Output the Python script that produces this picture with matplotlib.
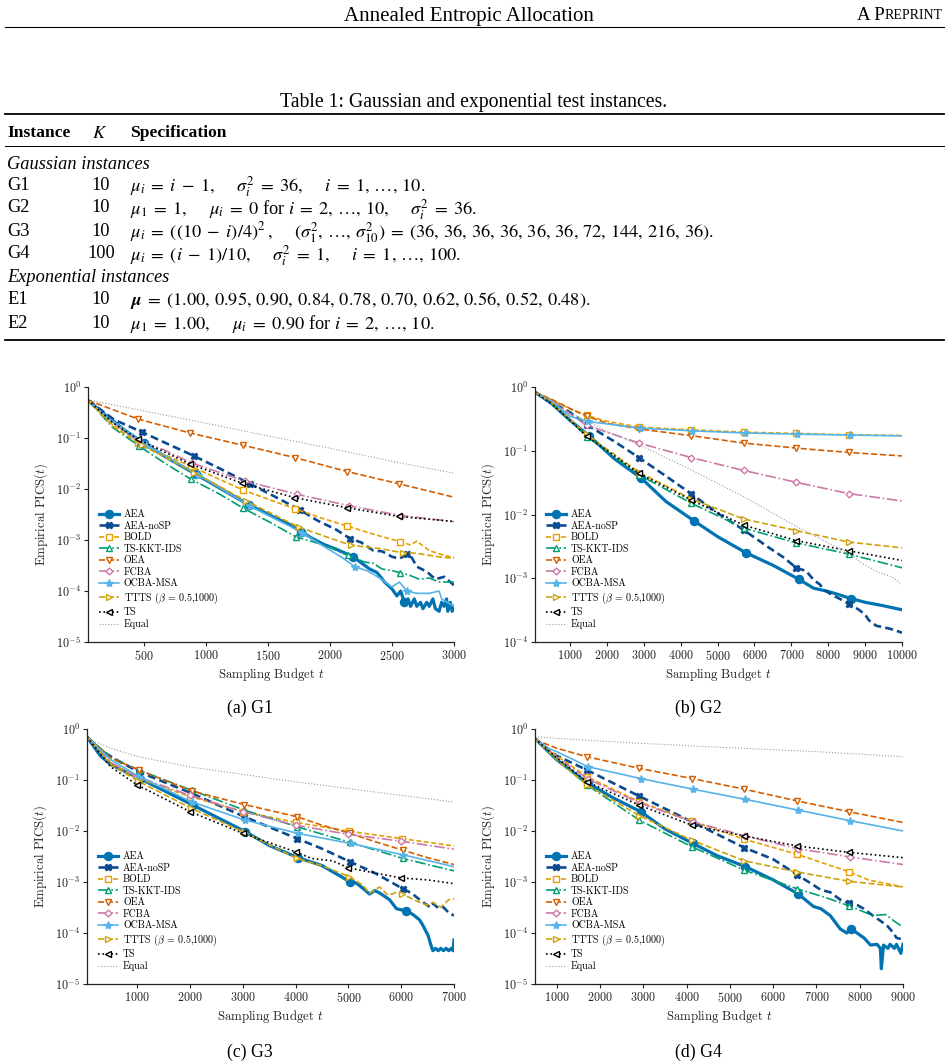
import numpy as np
import matplotlib
matplotlib.use("Agg")
import matplotlib.pyplot as plt
from matplotlib.lines import Line2D
from matplotlib.ticker import MultipleLocator, NullLocator, LogLocator

plt.rcParams['font.family'] = 'cmr10'
plt.rcParams['mathtext.fontset'] = 'cm'
plt.rcParams['axes.formatter.use_mathtext'] = True
plt.rcParams['axes.unicode_minus'] = False

W, H = 949, 1063
SERIF = 'Liberation Serif'

# ---------------- table ----------------
TABLE_CAPTION = 'Table 1: Gaussian and exponential test instances.'
TABLE_HEADER = ['Instance', '$K$', 'Specification']
GAUSS_NAMES = ['G1', 'G2', 'G3', 'G4']
GAUSS_K = ['10', '10', '10', '100']
GAUSS_SPECS = [
    r'$\mu_i = i - 1, \quad \sigma_i^2 = 36, \quad i = 1, \ldots, 10.$',
    r'$\mu_1 = 1, \quad \mu_i = 0$ for $i = 2, \ldots, 10, \quad \sigma_i^2 = 36.$',
    r'$\mu_i = ((10 - i)/4)^2\,, \quad (\sigma_1^2, \ldots, \sigma_{10}^2) = '
    r'(36, 36, 36, 36, 36, 36, 72, 144, 216, 36).$',
    r'$\mu_i = (i - 1)/10, \quad \sigma_i^2 = 1, \quad i = 1, \ldots, 100.$',
]
EXP_NAMES = ['E1', 'E2']
EXP_K = ['10', '10']
EXP_SPECS = [
    r'$\boldsymbol{\mu} = (1.00, 0.95, 0.90, 0.84, 0.78, 0.70, 0.62, 0.56, 0.52, 0.48).$',
    r'$\mu_1 = 1.00, \quad \mu_i = 0.90$ for $i = 2, \ldots, 10.$',
]

# ---------------- curves: (t, PICS) ----------------
METHODS = ['AEA', 'AEA-noSP', 'BOLD', 'TS-KKT-IDS', 'OEA', 'FCBA', 'OCBA-MSA', 'TTTS', 'TS', 'Equal']
LABELS = ['AEA', 'AEA-noSP', 'BOLD', 'TS-KKT-IDS', 'OEA', 'FCBA', 'OCBA-MSA',
          r'TTTS ($\beta$ = 0.5,1000)', 'TS', 'Equal']

# G1
G1_AEA = [(50, .55), (200, .27), (350, .14), (500, .079), (710, .038), (920, .0195), (1130, .0098),
          (1345, .0049), (1450, .0037), (1560, .0027), (1660, .0021), (1767, .00146), (1850, .0011),
          (1950, .00082), (2050, .00066), (2188, .00047), (2250, .00036), (2320, .00027), (2380, .00023),
          (2440, .00015), (2500, .00011), (2540, .00008), (2570, .0001), (2600, .00006), (2630, .00007),
          (2650, .00005), (2680, .00007), (2700, .00005), (2730, .00006), (2750, .000045), (2780, .00006),
          (2800, .00005), (2830, .00007), (2850, .000045), (2880, .00004), (2900, .00006), (2920, .00005),
          (2940, .00007), (2950, .00004), (2970, .00006), (2985, .00004), (3000, .00005)]
G1_NOSP = [(50, .55), (259, .23), (487, .13), (700, .075), (902, .0447), (1130, .024), (1357, .0126),
           (1550, .0072), (1759, .0039), (1900, .0024), (2050, .0016), (2161, .00107), (2250, .0009),
           (2350, .00062), (2420, .0006), (2500, .00047), (2560, .00043), (2620, .00052), (2660, .00045),
           (2700, .0003), (2780, .00024), (2850, .00017), (2920, .00019), (3000, .00013)]
G1_BOLD = [(50, .55), (250, .18), (456, .08), (877, .028), (1298, .0096), (1510, .0062), (1719, .0041),
           (1930, .0027), (2140, .00188), (2350, .0013), (2563, .00093), (2650, .0008), (2700, .00095),
           (2740, .0008), (2800, .00062), (2900, .00052), (3000, .00045)]
G1_KKT = [(50, .55), (250, .16), (460, .07), (670, .032), (881, .0155), (1100, .0082), (1302, .0042),
          (1520, .0022), (1723, .00116), (1950, .0008), (2144, .0005), (2280, .00037), (2350, .00035),
          (2420, .00027), (2500, .00025), (2565, .00023), (2650, .0002), (2720, .00017), (2800, .00018),
          (2880, .00015), (3000, .00015)]
G1_OEA = [(50, .55), (250, .36), (454, .235), (875, .125), (1296, .0724), (1717, .0414), (2138, .022),
          (2559, .0126), (3000, .0069)]
G1_FCBA = [(50, .55), (250, .2), (470, .085), (660, .059), (891, .032), (1312, .0144), (1733, .0079),
           (2154, .0047), (2575, .003), (3000, .0023)]
G1_OCBA = [(50, .55), (200, .26), (515, .074), (936, .019), (1357, .0046), (1778, .0014), (1950, .00075),
           (2100, .00045), (2199, .0003), (2300, .00025), (2400, .00018), (2500, .00012), (2560, .00015),
           (2620, .0001), (2700, .00009), (2800, .00009), (2880, .0001), (2900, .00007), (3000, .00005)]
G1_TTTS = [(50, .55), (250, .17), (484, .072), (905, .021), (1326, .0058), (1747, .0018), (1950, .0012),
           (2168, .00079), (2400, .00068), (2589, .00056), (2700, .00055), (2800, .0005), (2900, .00046),
           (3000, .00044)]
G1_TS = [(50, .55), (250, .2), (450, .095), (871, .031), (1292, .013), (1713, .0068), (2134, .0043),
         (2555, .0029), (3000, .0023)]
G1_EQUAL = [(50, .56), (500, .34), (1000, .195), (1500, .11), (2000, .063), (2500, .035), (3000, .0204)]

# G2
G2_AEA = [(50, .83), (500, .55), (1000, .3), (1514, .172), (2200, .075), (2934, .037), (3600, .016),
          (4354, .008), (5000, .0045), (5774, .0025), (6500, .0016), (7194, .00097), (7600, .0007),
          (8000, .00062), (8300, .00055), (8614, .00048), (9000, .00042), (9500, .00037), (10000, .00032)]
G2_NOSP = [(50, .83), (500, .58), (1000, .4), (1451, .256), (2200, .14), (2871, .078), (3600, .04),
           (4291, .021), (5000, .0105), (5711, .0057), (6400, .003), (6800, .0021), (7131, .00146),
           (7400, .0013), (7600, .00095), (7770, .0008), (7900, .00065), (8100, .00055), (8300, .00048),
           (8551, .0004), (8800, .00033), (9000, .00027), (9100, .00022), (9300, .00018), (9500, .00017),
           (9700, .00016), (10000, .00014)]
G2_BOLD = [(50, .83), (500, .63), (1000, .45), (1451, .358), (2000, .29), (2871, .235), (4291, .213),
           (5711, .196), (7131, .187), (8551, .178), (10000, .174)]
G2_KKT = [(50, .83), (500, .55), (1000, .3), (1451, .167), (2871, .042), (4291, .015), (5711, .0061),
          (7131, .0036), (8551, .0024), (10000, .00146)]
G2_OEA = [(50, .83), (500, .64), (1000, .46), (1451, .35), (2000, .27), (2871, .22), (4291, .172),
          (5711, .132), (7131, .11), (8551, .094), (10000, .083)]
G2_FCBA = [(50, .83), (500, .6), (1000, .38), (1451, .25), (2871, .132), (4291, .078), (5711, .049),
           (7131, .032), (8551, .0213), (10000, .0163)]
G2_OCBA = [(50, .83), (500, .6), (1000, .345), (1480, .288), (2900, .226), (4320, .205), (5740, .19),
           (7160, .182), (8580, .176), (10000, .171)]
G2_TTTS = [(50, .83), (500, .56), (1000, .31), (1451, .18), (2871, .046), (4291, .0175), (5711, .0085),
           (7131, .0056), (8551, .0037), (10000, .003)]
G2_TS = [(50, .83), (500, .55), (1000, .3), (1451, .17), (2871, .044), (4291, .0168), (5711, .0068),
         (7131, .0039), (8551, .0027), (10000, .0019)]
G2_EQUAL = [(50, .83), (500, .6), (1000, .39), (1500, .29), (2000, .2), (2871, .124), (4291, .05),
            (5711, .019), (7131, .0065), (8040, .0035), (8560, .0025), (8920, .0017), (9370, .00123),
            (9730, .00105), (10000, .00079)]

# G3
G3_AEA = [(50, .7), (300, .3), (500, .2), (1050, .107), (2060, .032), (3050, .0097), (3500, .0052),
          (4047, .003), (4500, .0021), (5038, .001), (5150, .00095), (5278, .00075), (5400, .00058),
          (5500, .00068), (5600, .0006), (5780, .00045), (5909, .0003), (6100, .00027), (6224, .00023),
          (6350, .00018), (6413, .00014), (6508, .00009), (6570, .000055), (6600, .000045), (6650, .00005),
          (6700, .000045), (6750, .00005), (6800, .000045), (6850, .00005), (6900, .000045), (6950, .00005),
          (6980, .000045), (7000, .000073)]
G3_NOSP = [(50, .7), (356, .36), (600, .25), (1030, .145), (2030, .055), (3030, .019), (4030, .0071),
           (4500, .0045), (5030, .0025), (5500, .0015), (6030, .00074), (6200, .0006), (6413, .0004),
           (6550, .00032), (6600, .00038), (6700, .00031), (6800, .00032), (6900, .00025), (7000, .00022)]
G3_BOLD = [(50, .7), (500, .22), (1010, .107), (2010, .047), (3010, .024), (4010, .0147), (5010, .0099),
           (6010, .0071), (7000, .0051)]
G3_KKT = [(50, .7), (500, .28), (1030, .157), (2030, .063), (3030, .0257), (4030, .0121), (5030, .006),
          (6030, .0029), (7000, .00165)]
G3_OEA = [(50, .7), (500, .27), (1030, .157), (2030, .061), (3030, .033), (4030, .019), (4500, .013),
          (5030, .009), (5500, .0062), (6030, .0042), (6500, .003), (7000, .0022)]
G3_FCBA = [(50, .7), (500, .22), (1000, .116), (2000, .05), (3000, .024), (4000, .013), (5000, .0086),
           (6000, .0063), (7000, .0044)]
G3_OCBA = [(50, .7), (500, .25), (1040, .116), (2040, .037), (3040, .0164), (4040, .009), (5040, .0057),
           (6040, .0034), (7000, .002)]
G3_TTTS = [(50, .7), (500, .2), (1020, .095), (2020, .028), (3020, .0095), (4020, .0029), (4500, .0021),
           (5020, .00126), (5278, .00086), (5400, .0006), (5590, .0008), (5750, .00055), (5900, .00062),
           (6020, .00058), (6300, .00042), (6500, .00035), (6600, .0004), (6750, .00032), (6900, .00045),
           (7000, .00047)]
G3_TS = [(50, .7), (500, .18), (1000, .08), (2000, .024), (3000, .009), (4000, .0039), (4300, .0029),
         (4700, .0026), (5000, .0019), (5500, .0015), (6000, .0012), (6500, .0011), (7000, .00093)]
G3_EQUAL = [(50, .66), (500, .42), (1000, .29), (2000, .18), (3000, .129), (4000, .092), (5000, .068),
            (6000, .05), (7000, .037)]

# G4
G4_AEA = [(500, .65), (1000, .25), (1725, .086), (2300, .045), (2937, .024), (3500, .011), (4149, .0057),
          (4700, .0033), (5361, .002), (6000, .0011), (6573, .00059), (6934, .00033), (7100, .0003),
          (7319, .00022), (7550, .00012), (7700, .0001), (7800, .00012), (7937, .0001), (8100, .00008),
          (8250, .000058), (8400, .00006), (8477, .00005), (8500, .00002), (8550, .000058), (8650, .00005),
          (8700, .00006), (8800, .00005), (8850, .00006), (8950, .00004), (9000, .00006)]
G4_NOSP = [(500, .65), (1000, .3), (1700, .157), (2912, .048), (4124, .0152), (5336, .0047), (6000, .0028),
           (6548, .0014), (6934, .00087), (7100, .0007), (7319, .00063), (7550, .00045), (7760, .00038),
           (7950, .00035), (8091, .0003), (8300, .00022), (8450, .00018), (8631, .00014), (8780, .0001),
           (8850, .00008), (9000, .000075)]
G4_BOLD = [(500, .65), (1000, .3), (1700, .116), (2912, .0374), (4124, .0156), (5336, .0069), (6548, .0035),
           (7760, .00158), (8200, .0011), (9000, .0008)]
G4_KKT = [(500, .65), (1000, .25), (1700, .08), (2912, .0163), (4124, .0049), (5336, .0017), (6548, .00074),
          (7200, .0005), (7760, .00034), (8300, .00022), (8600, .00023), (8800, .00017), (9000, .00013)]
G4_OEA = [(500, .62), (1000, .42), (1700, .286), (2912, .169), (4124, .107), (5336, .066), (6548, .039),
          (7760, .0238), (9000, .0147)]
G4_FCBA = [(500, .65), (1000, .28), (1720, .105), (2932, .035), (4144, .0152), (5356, .008), (6568, .0045),
           (7780, .0031), (9000, .0022)]
G4_OCBA = [(500, .65), (800, .42), (1000, .36), (1725, .182), (2937, .107), (4149, .066), (5361, .0417),
           (6573, .0257), (7785, .0159), (9000, .01)]
G4_TTTS = [(500, .65), (1000, .25), (1700, .08), (2912, .02), (4124, .0066), (5336, .0026), (6548, .00158),
           (7760, .00103), (9000, .0008)]
G4_TS = [(500, .65), (1000, .27), (1700, .092), (2912, .032), (4124, .013), (5336, .008), (6548, .0051),
         (7760, .0038), (9000, .003)]
G4_EQUAL = [(500, .7), (2000, .58), (3000, .52), (5000, .43), (7000, .36), (9000, .287)]

PANELS = [
    dict(cap='(a) G1', xlim=(50, 3000), xstep=500, ymin=1e-5, mstep=421,
         series=[G1_AEA, G1_NOSP, G1_BOLD, G1_KKT, G1_OEA, G1_FCBA, G1_OCBA, G1_TTTS, G1_TS, G1_EQUAL],
         mstart=[500, 487, 456, 460, 454, 470, 515, 484, 450, None]),
    dict(cap='(b) G2', xlim=(50, 10000), xstep=1000, ymin=1e-4, mstep=1420,
         series=[G2_AEA, G2_NOSP, G2_BOLD, G2_KKT, G2_OEA, G2_FCBA, G2_OCBA, G2_TTTS, G2_TS, G2_EQUAL],
         mstart=[1514, 1451, 1451, 1451, 1451, 1451, 1480, 1451, 1451, None]),
    dict(cap='(c) G3', xlim=(50, 7000), xstep=1000, ymin=1e-5, mstep=1000,
         series=[G3_AEA, G3_NOSP, G3_BOLD, G3_KKT, G3_OEA, G3_FCBA, G3_OCBA, G3_TTTS, G3_TS, G3_EQUAL],
         mstart=[1045, 1030, 1010, 1030, 1030, 1000, 1040, 1020, 1000, None]),
    dict(cap='(d) G4', xlim=(500, 9000), xstep=1000, ymin=1e-5, mstep=1212,
         series=[G4_AEA, G4_NOSP, G4_BOLD, G4_KKT, G4_OEA, G4_FCBA, G4_OCBA, G4_TTTS, G4_TS, G4_EQUAL],
         mstart=[1725, 1700, 1700, 1700, 1700, 1720, 1725, 1700, 1700, None]),
]

STYLES = {
    'AEA': dict(color='#0173B2', ls='-', lw=2.3, marker='o', ms=5.8),
    'AEA-noSP': dict(color='#0A4A8E', ls=(0, (3, 1.6)), lw=1.9, marker='X', ms=4.5),
    'BOLD': dict(color='#E69F00', ls=(0, (3, 1.5)), lw=1.2, marker='s', ms=4, mfc='white'),
    'TS-KKT-IDS': dict(color='#009E73', ls='-.', lw=1.2, marker='^', ms=4.5, mfc='white'),
    'OEA': dict(color='#D55E00', ls='--', lw=1.2, marker='v', ms=4.5, mfc='white'),
    'FCBA': dict(color='#CC79A7', ls='-.', lw=1.2, marker='D', ms=3.5, mfc='white'),
    'OCBA-MSA': dict(color='#56B4E9', ls='-', lw=1.2, marker='*', ms=6),
    'TTTS': dict(color='#CFA20C', ls='--', lw=1.2, marker='>', ms=4.5, mfc='white'),
    'TS': dict(color='black', ls=':', lw=1.2, marker='<', ms=4.5, mfc='white'),
    'Equal': dict(color='#9a9a9a', ls=':', lw=0.8),
}

# axes boxes in pixels: left, top, right, bottom
BOXES = [(88, 387, 454, 642), (535, 387, 902, 642), (87, 729, 454, 984), (535, 729, 903, 984)]
CAPS_XY = [(250, 706), (698, 706), (250, 1050), (698, 1050)]


def fx(x):
    return x / W


def fy(y):
    return 1 - y / H


def tex_spacing(s):
    # widen mathtext spacing toward LaTeX's
    s = s.replace(' = ', r' \;=\; ').replace(' - ', r' \;-\; ')
    s = s.replace(r'\quad', r'\quad\,').replace(', ', r',\, ')
    return s


def marker_idx(ts, start, step):
    ts = np.asarray(ts, dtype=float)
    out = []
    for m in np.arange(start, ts[-1] - step / 4, step):
        i = int(np.argmin(np.abs(ts - m)))
        if abs(ts[i] - m) < step / 4 and i not in out:
            out.append(i)
    return out


fig = plt.figure(figsize=(W / 100, H / 100), dpi=100)

# ---- page header ----
fig.text(fx(469), fy(14), 'Annealed Entropic Allocation', ha='center', va='center_baseline',
         family=SERIF, size=15)
t_rep = fig.text(fx(943), fy(14), 'REPRINT', ha='right', va='center_baseline', family=SERIF, size=10)
r = fig.canvas.get_renderer()
wrep = t_rep.get_window_extent(r).width
fig.text(fx(943 - wrep), fy(14), 'A P', ha='right', va='center_baseline', family=SERIF, size=13.5)
fig.add_artist(Line2D([fx(5), fx(944)], [fy(27), fy(27)], color='black', lw=0.8, transform=fig.transFigure))

# ---- table ----
TS_KW = dict(family=SERIF, size=13.2, math_fontfamily='stix', va='center_baseline')
fig.text(fx(474), fy(100), TABLE_CAPTION, ha='center', **dict(TS_KW, size=14.2))
for yy, lw in [(114, 1.3), (146, 0.7), (340, 1.3)]:
    fig.add_artist(Line2D([fx(5), fx(944)], [fy(yy), fy(yy)], color='black', lw=lw,
                          transform=fig.transFigure))
fig.text(fx(7), fy(131), TABLE_HEADER[0], ha='left', weight='bold', **dict(TS_KW, size=12.6))
fig.text(fx(100), fy(131), TABLE_HEADER[1], ha='center', **TS_KW)
fig.text(fx(130), fy(131), TABLE_HEADER[2], ha='left', weight='bold', **dict(TS_KW, size=12.6))
fig.text(fx(7), fy(162), 'Gaussian instances', ha='left', style='italic', **TS_KW)
row_y = [183, 206, 229, 252]
for name, k, spec, yy in zip(GAUSS_NAMES, GAUSS_K, GAUSS_SPECS, row_y):
    fig.text(fx(7), fy(yy), name, ha='left', **TS_KW)
    fig.text(fx(101), fy(yy), k, ha='center', **TS_KW)
    fig.text(fx(130), fy(yy), tex_spacing(spec), ha='left', **TS_KW)
fig.text(fx(7), fy(275), 'Exponential instances', ha='left', style='italic', **TS_KW)
for name, k, spec, yy in zip(EXP_NAMES, EXP_K, EXP_SPECS, [298, 321]):
    fig.text(fx(7), fy(yy), name, ha='left', **TS_KW)
    fig.text(fx(101), fy(yy), k, ha='center', **TS_KW)
    fig.text(fx(130), fy(yy), tex_spacing(spec), ha='left', **TS_KW)

# ---- plots ----
for p, box, cxy in zip(PANELS, BOXES, CAPS_XY):
    l, t, rr, b = box
    ax = fig.add_axes([fx(l), fy(b), (rr - l) / W, (b - t) / H])
    for name, lab, ser, ms in zip(METHODS, LABELS, p['series'], p['mstart']):
        ts = [q[0] for q in ser]
        vs = [q[1] for q in ser]
        st = dict(STYLES[name])
        kw = dict(color=st['color'], ls=st['ls'], lw=st['lw'], label=lab)
        if 'marker' in st:
            kw.update(marker=st['marker'], ms=st['ms'], mec=st['color'], mew=1.0,
                      mfc=st.get('mfc', st['color']),
                      markevery=marker_idx(ts, ms, p['mstep']))
        ax.plot(ts, vs, **kw)
    ax.set_yscale('log')
    ax.set_ylim(p['ymin'], 1)
    ax.set_xlim(*p['xlim'])
    ax.yaxis.set_major_locator(LogLocator(base=10, numticks=12))
    ax.yaxis.set_minor_locator(NullLocator())
    ax.xaxis.set_major_locator(MultipleLocator(p['xstep']))
    ax.xaxis.set_minor_locator(NullLocator())
    for s in ['top', 'right']:
        ax.spines[s].set_visible(False)
    for s in ['left', 'bottom']:
        ax.spines[s].set_linewidth(0.9)
        ax.spines[s].set_color('#222222')
    ax.tick_params(direction='out', length=3, width=0.8, labelsize=8.7, colors='#222222', pad=2)
    ax.set_xlabel('Sampling Budget $t$', fontsize=9.2, labelpad=2, color='#222222')
    ax.set_ylabel('Empirical PICS($t$)', fontsize=9.2, labelpad=4, color='#222222')
    ax.legend(loc='lower left', bbox_to_anchor=(0.03, 0.05), frameon=False, fontsize=7.2,
              handlelength=2.0, handletextpad=0.5, labelspacing=0.2, borderpad=0, borderaxespad=0)
    fig.text(fx(cxy[0]), fy(cxy[1]), p['cap'], ha='center', va='center_baseline',
             family=SERIF, size=12.8)

fig.savefig('out.png', dpi=100)
